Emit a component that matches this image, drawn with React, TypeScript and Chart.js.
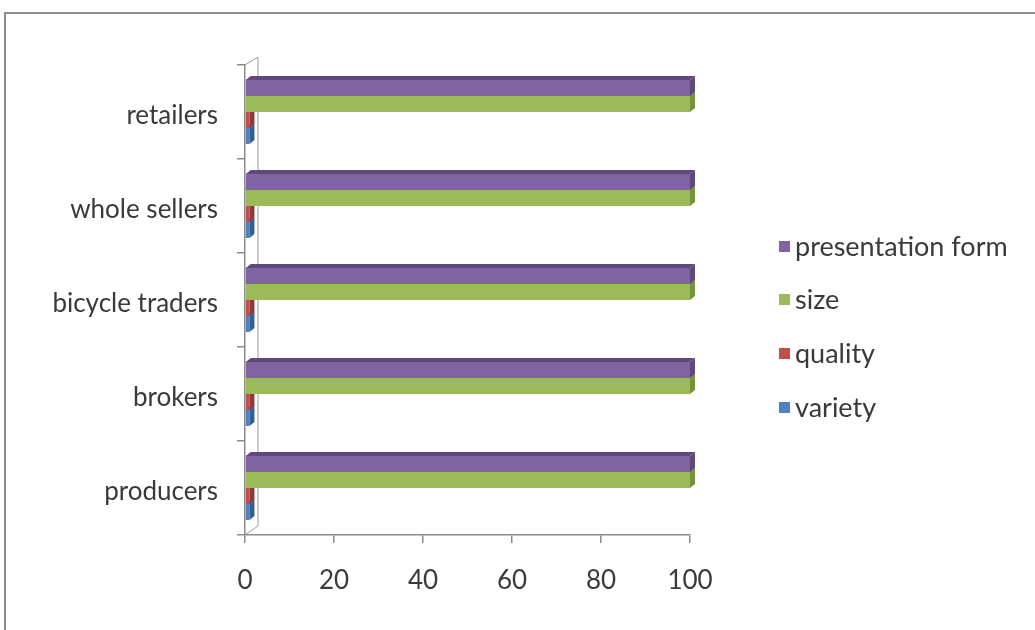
import React, { useEffect, useRef } from "react";
import { Chart, registerables } from "chart.js";

Chart.register(...registerables);

const categories = ["retailers", "whole sellers", "bicycle traders", "brokers", "producers"];
const seriesNames = ["presentation form", "size", "quality", "variety"];
const presentationForm = [100, 100, 100, 100, 100];
const sizeValues = [100, 100, 100, 100, 100];
const qualityValues = [1, 1, 1, 1, 1];
const varietyValues = [1, 1, 1, 1, 1];
const xTicks = [0, 20, 40, 60, 80, 100];

const frontColors = ["#8064A2", "#9BBB59", "#C0504D", "#4F81BD"];
const topColors = ["#5E4A7A", "#76923C", "#8E3A38", "#365F91"];
const FONT = "Lato, sans-serif";
const FSIZE = 26;
const TEXT = "#3a3a3a";
const AXIS = "#8a8a8a";
const DX = 5;
const DY = 4;

const depthPlugin = {
  id: "depth3d",
  beforeDatasetsDraw(chart: any) {
    const { ctx, chartArea } = chart;
    const l = chartArea.left, t = chartArea.top, b = chartArea.bottom;
    ctx.save();
    ctx.strokeStyle = "#9a9a9a";
    ctx.lineWidth = 1;
    ctx.beginPath();
    ctx.moveTo(l, t);
    ctx.lineTo(l + 13, t - 8);
    ctx.lineTo(l + 13, b - 9);
    ctx.lineTo(l, b);
    ctx.stroke();
    ctx.restore();
  },
  afterDatasetDraw(chart: any, args: any) {
    const { ctx } = chart;
    const idx = args.index;
    const meta = chart.getDatasetMeta(idx);
    ctx.save();
    ctx.fillStyle = topColors[idx];
    meta.data.forEach((el: any) => {
      const p = el.getProps(["x", "y", "base", "height"], true);
      const y0 = p.y - p.height / 2;
      const y1 = p.y + p.height / 2;
      const x0 = Math.min(p.base, p.x);
      const x1 = Math.max(p.base, p.x);
      ctx.beginPath();
      ctx.moveTo(x0, y0);
      ctx.lineTo(x1, y0);
      ctx.lineTo(x1 + DX, y0 - DY);
      ctx.lineTo(x0 + DX, y0 - DY);
      ctx.closePath();
      ctx.fill();
      ctx.beginPath();
      ctx.moveTo(x1, y0);
      ctx.lineTo(x1 + DX, y0 - DY);
      ctx.lineTo(x1 + DX, y1 - DY);
      ctx.lineTo(x1, y1);
      ctx.closePath();
      ctx.fill();
    });
    ctx.restore();
  },
};

const legendPlugin = {
  id: "rightLegend",
  afterDraw(chart: any) {
    const { ctx } = chart;
    const rows = [246, 299, 353, 407];
    ctx.save();
    ctx.font = `27px ${FONT}`;
    ctx.textBaseline = "middle";
    ctx.textAlign = "left";
    chart.data.datasets.forEach((ds: any, i: number) => {
      const y = rows[i];
      ctx.fillStyle = ds.backgroundColor;
      ctx.fillRect(779, y - 5, 11, 11);
      ctx.fillStyle = TEXT;
      ctx.fillText(ds.label, 795, y + 1);
    });
    ctx.restore();
  },
};

export default function App() {
  const ref = useRef<HTMLCanvasElement>(null);
  useEffect(() => {
    if (!ref.current) return;
    const values = [presentationForm, sizeValues, qualityValues, varietyValues];
    const chart = new Chart(ref.current, {
      type: "bar",
      data: {
        labels: categories,
        datasets: seriesNames.map((name, i) => ({
          label: name,
          data: values[i],
          backgroundColor: frontColors[i],
          borderWidth: 0,
          categoryPercentage: 0.68,
          barPercentage: 1,
        })),
      },
      options: {
        indexAxis: "y",
        animation: false,
        responsive: false,
        layout: { padding: { top: 65, left: 0, right: 345, bottom: 0 } },
        plugins: { legend: { display: false }, tooltip: { enabled: false } },
        scales: {
          x: {
            min: 0,
            max: 100,
            afterBuildTicks: (s: any) => {
              s.ticks = xTicks.map((v) => ({ value: v }));
            },
            afterFit: (s: any) => {
              s.height = 95;
            },
            ticks: { color: TEXT, font: { family: FONT, size: FSIZE }, padding: 22 },
            grid: { drawOnChartArea: false, drawTicks: true, tickLength: 8, color: AXIS, lineWidth: 1.5 },
            border: { color: AXIS, width: 1.5 },
          },
          y: {
            type: "category",
            afterFit: (s: any) => {
              s.width = 245;
            },
            ticks: { color: TEXT, font: { family: FONT, size: FSIZE }, padding: 19, labelOffset: 4 },
            grid: { offset: true, drawOnChartArea: false, drawTicks: true, tickLength: 8, color: AXIS, lineWidth: 1.5 },
            border: { color: AXIS, width: 1.5 },
          },
        },
      },
      plugins: [depthPlugin, legendPlugin],
    } as any);
    return () => chart.destroy();
  }, []);

  return (
    <div style={{ position: "absolute", left: 0, top: 0, width: 1035, height: 630, background: "#fff", overflow: "hidden" }}>
      <div
        style={{
          position: "absolute",
          left: 4,
          top: 12,
          width: 1100,
          height: 700,
          borderLeft: "2px solid #8c8c8c",
          borderTop: "2px solid #8c8c8c",
        }}
      />
      <canvas ref={ref} width={1035} height={630} style={{ position: "absolute", left: 0, top: 0 }} />
    </div>
  );
}
